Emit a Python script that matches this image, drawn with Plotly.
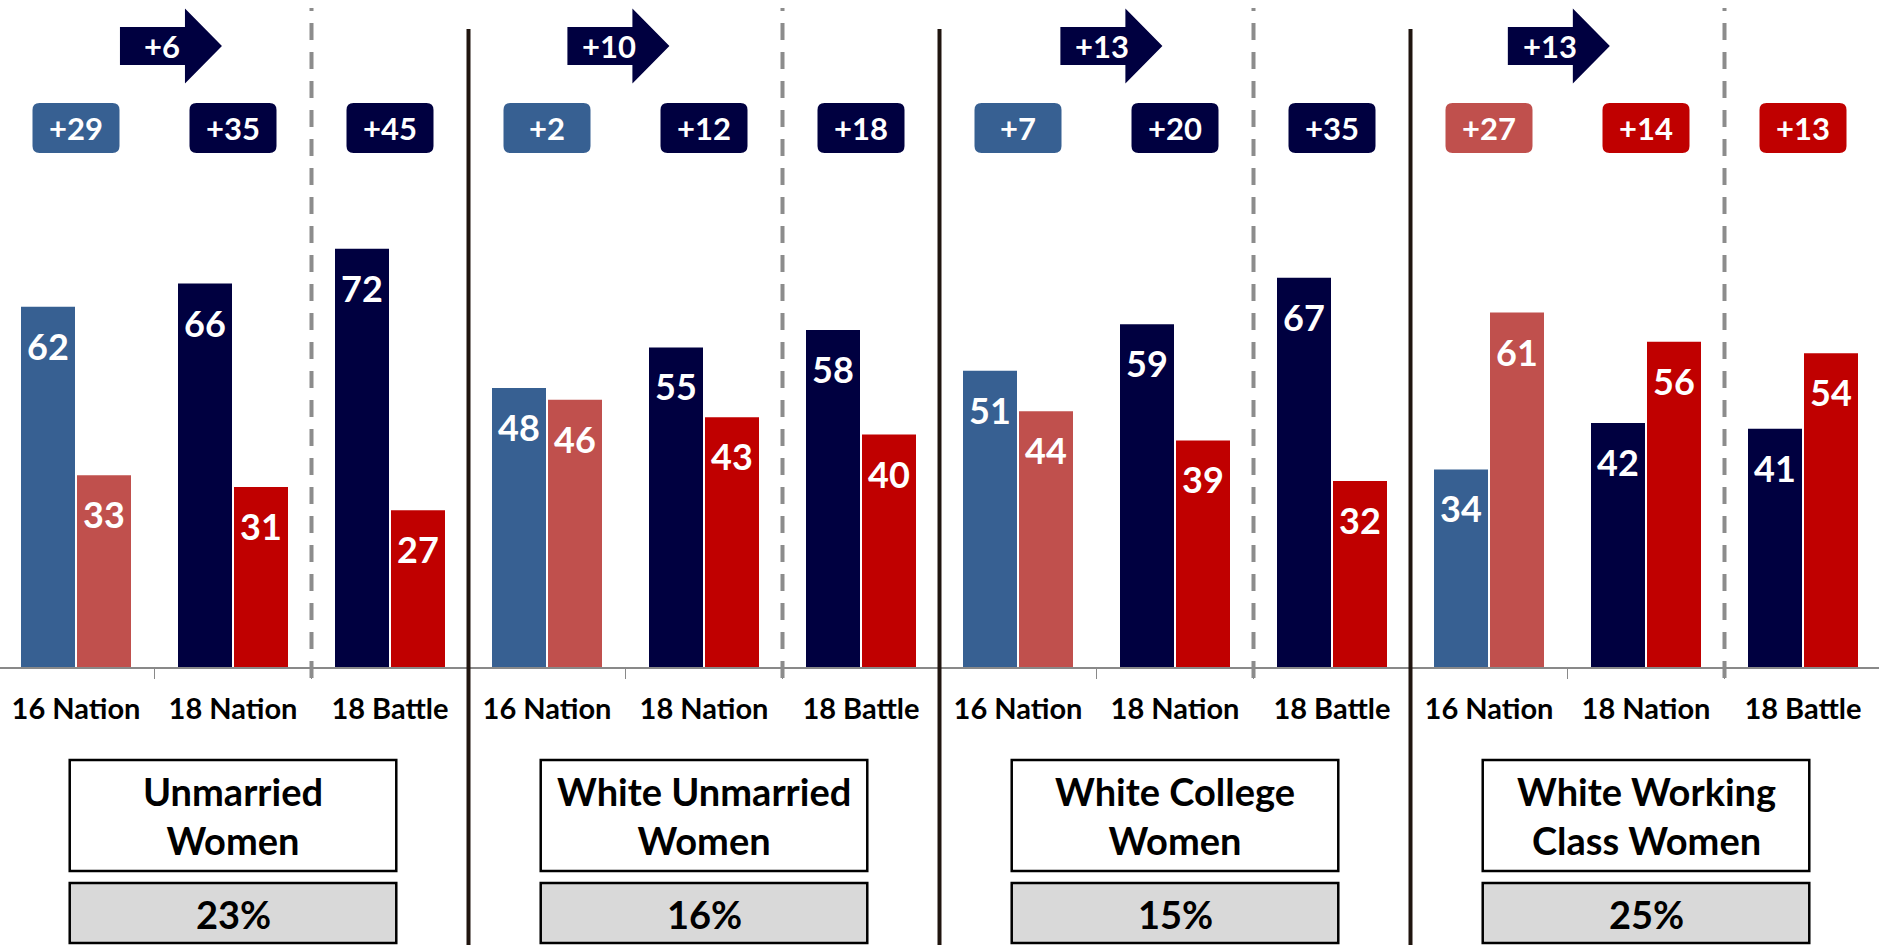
import plotly.graph_objects as go

# ---------------- data ----------------
categories = ["16 Nation", "18 Nation", "18 Battle",
              "16 Nation", "18 Nation", "18 Battle",
              "16 Nation", "18 Nation", "18 Battle",
              "16 Nation", "18 Nation", "18 Battle"]
dem = [62, 66, 72, 48, 55, 58, 51, 59, 67, 34, 42, 41]
rep = [33, 31, 27, 46, 43, 40, 44, 39, 32, 61, 56, 54]
groups = ["Unmarried<br>Women", "White Unmarried<br>Women",
          "White College<br>Women", "White Working<br>Class Women"]
group_share = ["23%", "16%", "15%", "25%"]

# ---------------- styling / layout constants ----------------
W, H = 1879, 945
BASE_PX = 667            # pixel row of the zero line
PX_PER_UNIT = 5.81       # pixels per percentage point
CAT_PX0, CAT_STEP = 76, 157
FONT = "Lato"

DEM16, DEM18 = "#376092", "#000040"
REP16, REP18 = "#C0504D", "#C00000"

n = len(categories)
x = list(range(n))
dem_colors = [DEM16 if c.startswith("16") else DEM18 for c in categories]
rep_colors = [REP16 if c.startswith("16") else REP18 for c in categories]

y_top = BASE_PX / PX_PER_UNIT
x_lo = -CAT_PX0 / CAT_STEP
x_hi = (W - CAT_PX0) / CAT_STEP


def py(P):
    """data y from pixel row"""
    return (BASE_PX - P) / PX_PER_UNIT


def pp(P):
    """paper y from pixel row"""
    return (BASE_PX - P) / BASE_PX


BW = 54 / CAT_STEP
GAP = 2 / CAT_STEP
OFF_A = -(BW + GAP / 2)
OFF_B = GAP / 2

fig = go.Figure()
fig.add_trace(go.Bar(x=x, y=dem, width=BW, offset=OFF_A,
                     marker=dict(color=dem_colors, line=dict(width=0)),
                     hoverinfo="skip", showlegend=False))
fig.add_trace(go.Bar(x=x, y=rep, width=BW, offset=OFF_B,
                     marker=dict(color=rep_colors, line=dict(width=0)),
                     hoverinfo="skip", showlegend=False))

shapes = []
annotations = []

# bar value labels
for i in range(n):
    for val, off in ((dem[i], OFF_A), (rep[i], OFF_B)):
        annotations.append(dict(x=i + off + BW / 2, y=val, xref="x", yref="y",
                                text=str(val), showarrow=False, yanchor="middle",
                                yshift=-39,
                                font=dict(family=FONT, size=36, color="white",
                                          weight="bold")))

# margin badges
bcy = py(128)
bhw = 43.5 / CAT_STEP
bhh = 25 / PX_PER_UNIT
rx = 7 / CAT_STEP
ry = 7 / PX_PER_UNIT
for i in range(n):
    m = dem[i] - rep[i]
    col = dem_colors[i] if m >= 0 else rep_colors[i]
    x0, x1 = i - bhw, i + bhw
    y0, y1 = bcy - bhh, bcy + bhh
    path = (f"M{x0+rx},{y0} L{x1-rx},{y0} Q{x1},{y0} {x1},{y0+ry} "
            f"L{x1},{y1-ry} Q{x1},{y1} {x1-rx},{y1} L{x0+rx},{y1} "
            f"Q{x0},{y1} {x0},{y1-ry} L{x0},{y0+ry} Q{x0},{y0} {x0+rx},{y0} Z")
    shapes.append(dict(type="path", path=path, xref="x", yref="y",
                       fillcolor=col, line=dict(width=0), layer="above"))
    annotations.append(dict(x=i, y=bcy, xref="x", yref="y", text=f"+{abs(m)}",
                            showarrow=False,
                            font=dict(family=FONT, size=31, color="white",
                                      weight="bold")))

# shift arrows: change in margin from 16 Nation to 18 Nation
arrow_left = [0.28, 3.13, 6.27, 9.12]
acy = py(46)
body_len = 65 / CAT_STEP
head_len = 37 / CAT_STEP
body_h = 19 / PX_PER_UNIT
head_h = 37.5 / PX_PER_UNIT
for g in range(4):
    i16, i18 = 3 * g, 3 * g + 1
    m16 = dem[i16] - rep[i16]
    m18 = dem[i18] - rep[i18]
    shift = abs(m18 - m16)
    xl = arrow_left[g]
    xb = xl + body_len
    xt = xb + head_len
    path = (f"M{xl},{acy-body_h} L{xb},{acy-body_h} L{xb},{acy-head_h} "
            f"L{xt},{acy} L{xb},{acy+head_h} L{xb},{acy+body_h} L{xl},{acy+body_h} Z")
    shapes.append(dict(type="path", path=path, xref="x", yref="y",
                       fillcolor=DEM18, line=dict(width=0), layer="above"))
    annotations.append(dict(x=xl + 42 / CAT_STEP, y=acy, xref="x", yref="y",
                            text=f"+{shift}", showarrow=False,
                            font=dict(family=FONT, size=31, color="white",
                                      weight="bold")))

# dashed separators (between 18 Nation and 18 Battle)
for g in range(4):
    xv = 3 * g + 1.5
    shapes.append(dict(type="line", x0=xv, x1=xv, xref="x", yref="paper",
                       y0=pp(678), y1=pp(8),
                       line=dict(color="#8C8C8C", width=4, dash="17px,12px")))

# solid group separators
for g in range(1, 4):
    xv = 3 * g - 0.5
    shapes.append(dict(type="line", x0=xv, x1=xv, xref="x", yref="paper",
                       y0=pp(946), y1=pp(29),
                       line=dict(color="#20150F", width=4)))

# group label boxes
for g in range(4):
    mid = 3 * g + 1
    shapes.append(dict(type="rect", xref="x", yref="paper",
                       x0=mid - 1.04, x1=mid + 1.04, y0=pp(871), y1=pp(760),
                       fillcolor="white", line=dict(color="black", width=2.5)))
    shapes.append(dict(type="rect", xref="x", yref="paper",
                       x0=mid - 1.04, x1=mid + 1.04, y0=pp(943), y1=pp(883),
                       fillcolor="#D9D9D9", line=dict(color="black", width=2.5)))
    annotations.append(dict(x=mid, y=pp(815), xref="x", yref="paper",
                            text=groups[g], showarrow=False, yanchor="middle",
                            font=dict(family=FONT, size=38, color="black",
                                      weight="bold")))
    annotations.append(dict(x=mid, y=pp(914), xref="x", yref="paper",
                            text=group_share[g], showarrow=False, yanchor="middle",
                            font=dict(family=FONT, size=38, color="black",
                                      weight="bold")))

fig.update_layout(
    width=W, height=H,
    margin=dict(l=0, r=0, t=0, b=H - BASE_PX, pad=0),
    paper_bgcolor="white", plot_bgcolor="white",
    shapes=shapes, annotations=annotations,
    xaxis=dict(range=[x_lo, x_hi], tickmode="array", tickvals=x,
               ticktext=categories, ticks="", showgrid=False, zeroline=False,
               showline=True, linecolor="#898989", linewidth=2,
               ticklabelstandoff=15,
               tickfont=dict(family=FONT, size=29, color="black", weight="bold"),
               minor=dict(tickmode="array",
                          tickvals=[i + 0.5 for i in range(-1, n)],
                          ticks="outside", ticklen=10, tickwidth=1,
                          tickcolor="#898989", showgrid=False),
               fixedrange=True),
    yaxis=dict(range=[0, y_top], visible=False, showgrid=False,
               zeroline=False, fixedrange=True),
    barmode="overlay",
)

fig.write_html("out.html",
               config={"displayModeBar": False},
               post_script="document.body.style.margin='0px';"
                           "document.body.style.overflow='hidden';")
